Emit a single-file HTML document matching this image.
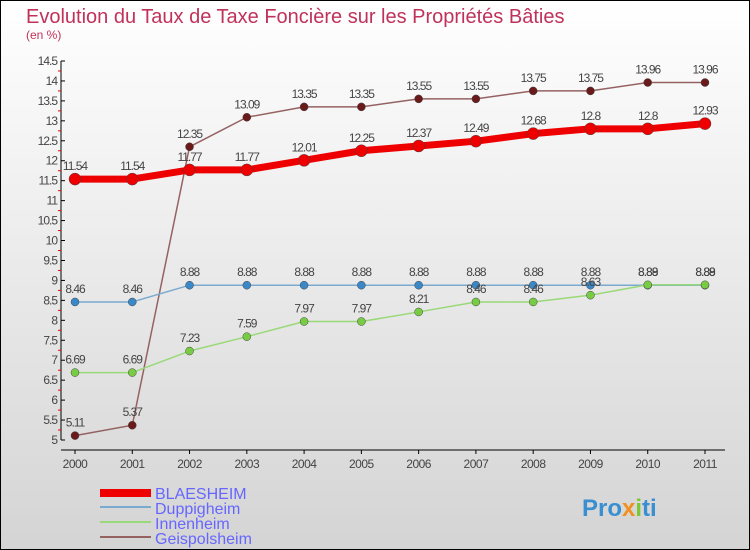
<!DOCTYPE html>
<html><head><meta charset="utf-8"><style>
body{margin:0}
#c{width:750px;height:550px;position:relative;overflow:hidden}
text{font-family:"Liberation Sans","DejaVu Sans",sans-serif}
</style></head><body>
<div id="c">
<svg id="s" width="750" height="550" xmlns="http://www.w3.org/2000/svg">
<defs><linearGradient id="bg" x1="0" y1="0" x2="0" y2="1"><stop offset="0" stop-color="#ffffff"/><stop offset="1" stop-color="#d4d4d4"/></linearGradient></defs>
<rect x="0.5" y="0.5" width="749" height="549" fill="url(#bg)" stroke="#000"/>
<text x="26" y="23" font-size="20" fill="#c0325a">Evolution du Taux de Taxe Foncière sur les Propriétés Bâties</text>
<text x="26" y="39" font-size="12" fill="#c0325a">(en %)</text>
<g id="axes"></g><g id="plot"></g>
<g font-size="16" fill="#6666ff">
<rect x="100" y="489" width="51" height="8" fill="#ee0000"/>
<text x="155" y="499">BLAESHEIM</text>
<rect x="100" y="506" width="51" height="2" fill="#7aaacf"/>
<text x="155" y="514">Duppigheim</text>
<rect x="100" y="521" width="51" height="2" fill="#99d977"/>
<text x="155" y="529">Innenheim</text>
<rect x="100" y="536" width="51" height="2" fill="#956262"/>
<text x="155" y="544">Geispolsheim</text>
</g>
<text x="582" y="516" font-size="24" font-weight="bold" fill="#3a8fd0">Pro<tspan fill="#f09020">x</tspan><tspan fill="#7cc832">i</tspan>ti</text>
</svg></div>
<script>
const years=[2000,2001,2002,2003,2004,2005,2006,2007,2008,2009,2010,2011];
const blaesheim=[11.54,11.54,11.77,11.77,12.01,12.25,12.37,12.49,12.68,12.8,12.8,12.93];
const duppigheim=[8.46,8.46,8.88,8.88,8.88,8.88,8.88,8.88,8.88,8.88,8.88,8.88];
const innenheim=[6.69,6.69,7.23,7.59,7.97,7.97,8.21,8.46,8.46,8.63,8.89,8.89];
const geispolsheim=[5.11,5.37,12.35,13.09,13.35,13.35,13.55,13.55,13.75,13.75,13.96,13.96];
const yTicks=[5,5.5,6,6.5,7,7.5,8,8.5,9,9.5,10,10.5,11,11.5,12,12.5,13,13.5,14,14.5];
const NS="http://www.w3.org/2000/svg";
const x=i=>75+i*(630/11);
const y=v=>440-(v-5)*(379/9.5);
function mk(t,a,p){const e=document.createElementNS(NS,t);for(const k in a)e.setAttribute(k,a[k]);p.appendChild(e);return e;}
const axes=document.getElementById('axes'),plot=document.getElementById('plot');
mk('line',{x1:61,y1:y(14.5),x2:61,y2:y(5),stroke:'#000'},axes);
mk('line',{x1:61,y1:450,x2:725,y2:450,stroke:'#000'},axes);
yTicks.forEach(v=>{
 const t=mk('text',{x:57,y:y(v)+4,'font-size':12,'text-anchor':'end',fill:'#444','letter-spacing':'-1'},axes);
 
 
 t.textContent=String(v);
 mk('line',{x1:61,y1:y(v),x2:65,y2:y(v),stroke:'#000'},axes);
 if(v<14.5)mk('line',{x1:58,y1:y(v+0.25),x2:61,y2:y(v+0.25),stroke:'#e00'},axes);
});
years.forEach((yr,i)=>{
 mk('line',{x1:x(i),y1:450,x2:x(i),y2:454,stroke:'#000'},axes);
 const t=mk('text',{x:x(i),y:468,'font-size':12,'text-anchor':'middle',fill:'#444','letter-spacing':'-0.5'},axes);
 
 
 t.textContent=yr;
});
function series(name,vals,color,w,r,dot){
 const g=mk('g',{},plot);
 
 
 const l=mk('polyline',{points:vals.map((v,i)=>x(i)+','+y(v)).join(' '),fill:'none',stroke:color,'stroke-width':w,'stroke-linejoin':'round'},g);
 
 
 vals.forEach((v,i)=>{
  const c=mk('circle',{cx:x(i),cy:y(v),r:r,fill:dot,stroke:'#444','stroke-width':0.5},g);
  
  
  const t=mk('text',{x:x(i),y:y(v)-9,'font-size':12,'text-anchor':'middle',fill:'#444','letter-spacing':'-1'},g);
  
  
  t.textContent=String(v);
 });
}
series('geispolsheim',geispolsheim,'#956262',1.5,4,'#6a1a1a');
series('duppigheim',duppigheim,'#7aaacf',1.5,4,'#3a88c8');
series('innenheim',innenheim,'#99d977',1.5,4,'#77cc44');
series('blaesheim',blaesheim,'#ee0000',7,6,'#ee0000');
</script>
</body></html>
